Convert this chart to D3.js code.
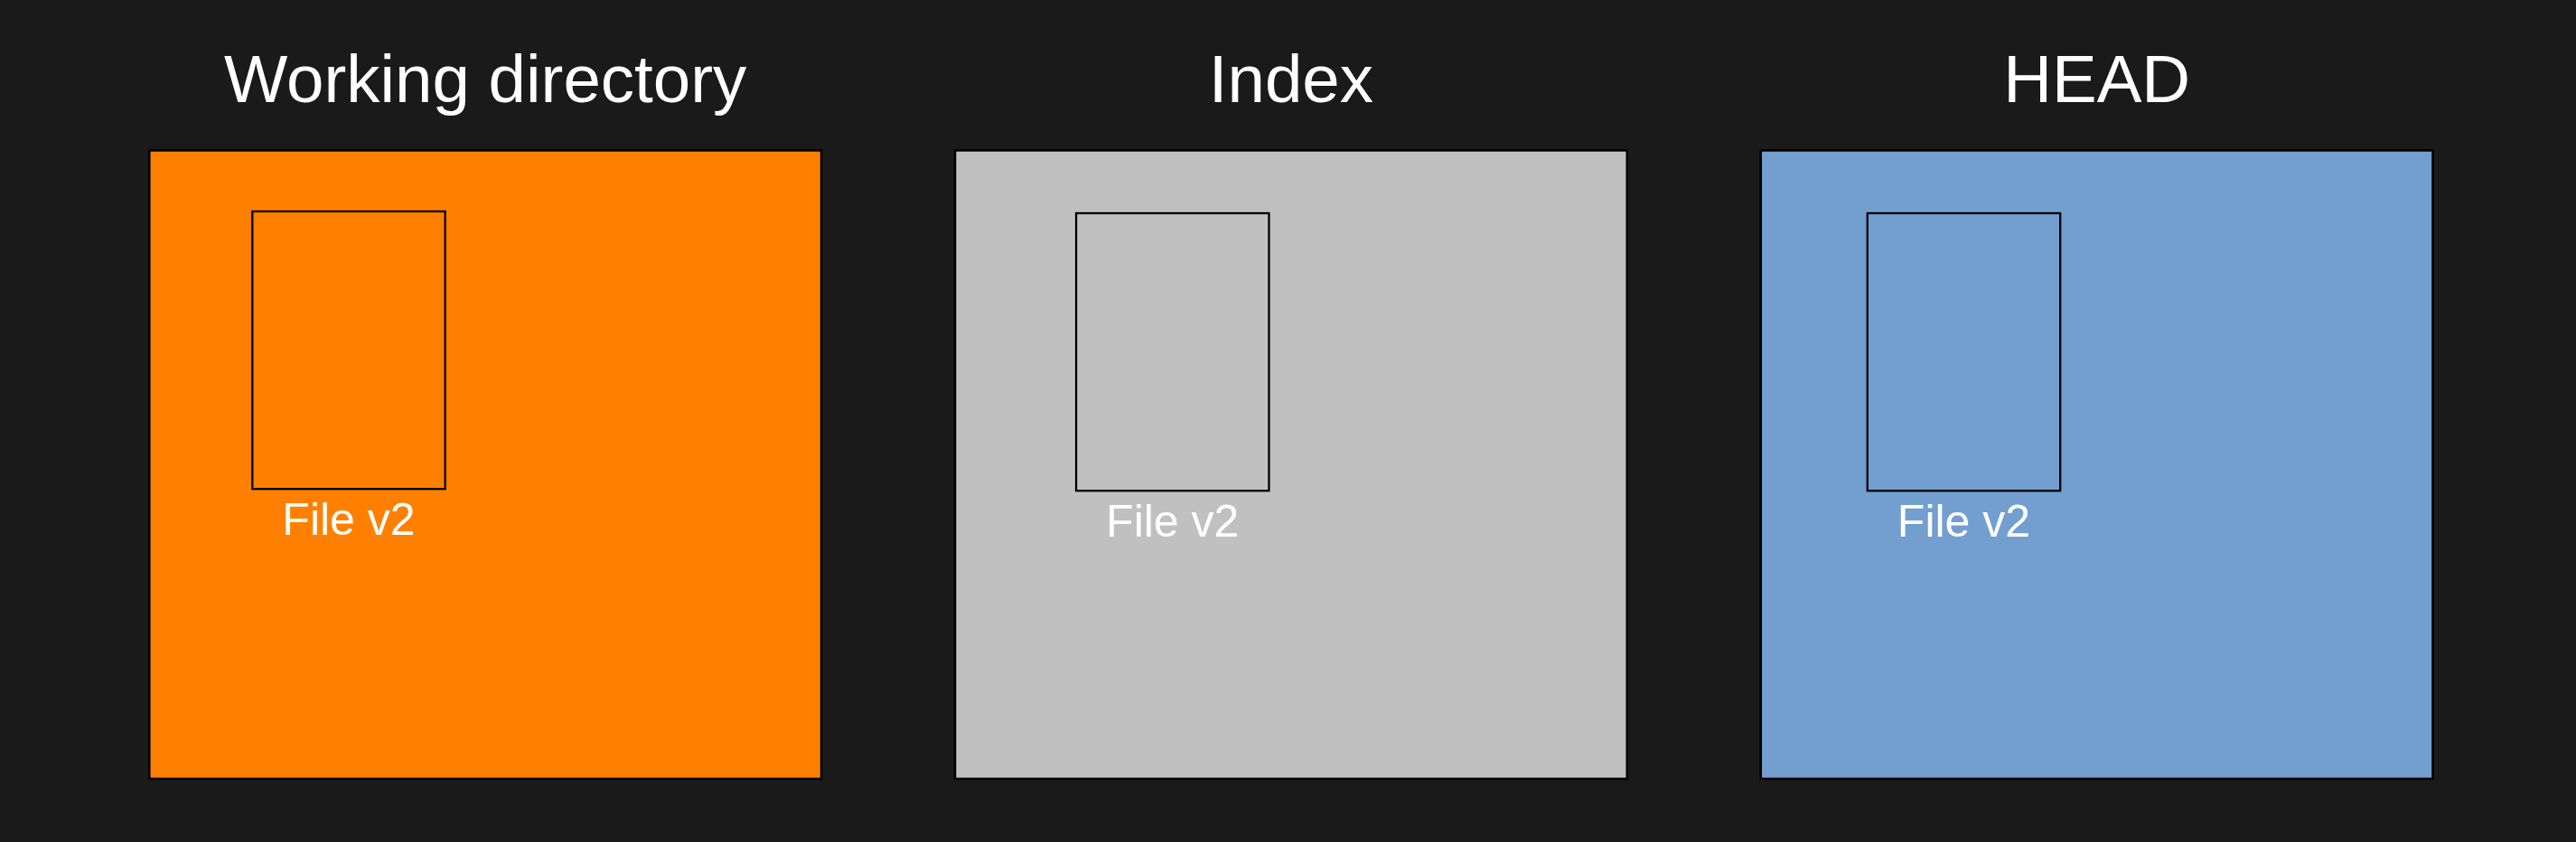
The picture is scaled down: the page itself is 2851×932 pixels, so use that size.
<!DOCTYPE html>
<html>
<head>
<meta charset="utf-8">
<script src="https://cdn.jsdelivr.net/npm/d3@7/dist/d3.min.js"></script>
<style>
  html, body { margin: 0; padding: 0; background: #1a1a1a; }
  svg { display: block; }
</style>
</head>
<body>
<script>
// ---- data ----
const areas = ["Working directory", "Index", "HEAD"];
const areaColors = ["#ff8000", "#c0c0c0", "#729fcf"];
const fileLabels = ["File v2", "File v2", "File v2"];

// ---- layout (styles / positions, not data) ----
const W = 2851, H = 932;
const panelTop = 166.5, panelHeight = 695.5;
const fileOffsetX = [114, 134, 118];
const fileOffsetY = [67.5, 69.5, 69.5];
const fileW = 213.4, fileH = 307.2;

const svg = d3.select("body").append("svg")
  .attr("width", W).attr("height", H);

svg.append("rect").attr("width", W).attr("height", H).attr("fill", "#1a1a1a");

const x = d3.scaleBand().domain(areas).range([165.3, 2692.5]).paddingInner(0.166);

const panels = svg.selectAll("g.panel").data(areas).join("g")
  .attr("class", "panel");

panels.append("text")
  .attr("x", d => x(d) + x.bandwidth() / 2)
  .attr("y", 113)
  .attr("text-anchor", "middle")
  .attr("fill", "#ffffff")
  .attr("font-family", "'Liberation Sans', Arial, sans-serif")
  .attr("font-size", 74.5)
  .text(d => d);

panels.append("rect")
  .attr("x", d => x(d))
  .attr("y", panelTop)
  .attr("width", x.bandwidth())
  .attr("height", panelHeight)
  .attr("fill", (d, i) => areaColors[i])
  .attr("stroke", "#000000")
  .attr("stroke-width", 2.5);

panels.append("rect")
  .attr("x", (d, i) => x(d) + fileOffsetX[i])
  .attr("y", (d, i) => panelTop + fileOffsetY[i])
  .attr("width", fileW)
  .attr("height", fileH)
  .attr("fill", "none")
  .attr("stroke", "#000000")
  .attr("stroke-width", 2.3);

panels.append("text")
  .attr("x", (d, i) => x(d) + fileOffsetX[i] + fileW / 2)
  .attr("y", (d, i) => panelTop + fileOffsetY[i] + fileH + 51)
  .attr("text-anchor", "middle")
  .attr("fill", "#ffffff")
  .attr("font-family", "'Liberation Sans', Arial, sans-serif")
  .attr("font-size", 50)
  .text((d, i) => fileLabels[i]);
</script>
</body>
</html>
